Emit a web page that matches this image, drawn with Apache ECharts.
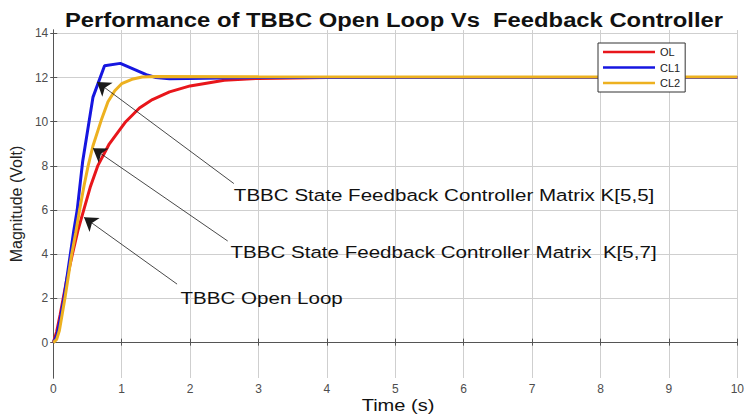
<!DOCTYPE html>
<html>
<head>
<meta charset="utf-8">
<script src="https://cdn.jsdelivr.net/npm/echarts@6/dist/echarts.min.js"></script>
<style>
  html, body { margin: 0; padding: 0; background: #fff; }
  #main { width: 747px; height: 414px; }
</style>
</head>
<body>
<div id="main"></div>
<script>
// step responses, [time (s), magnitude (V)]
var olData = [
  [0, 0], [0.05, 0.5], [0.1, 1.25], [0.145, 2], [0.2, 2.9], [0.28, 4], [0.36, 5.07],
  [0.445, 6], [0.54, 7.03], [0.65, 8], [0.82, 9], [1.06, 10], [1.26, 10.62], [1.45, 11.0],
  [1.7, 11.35], [2.0, 11.62], [2.5, 11.88], [3.0, 11.96], [4.0, 12], [10, 12]
];
var cl1Data = [
  [0, 0], [0.05, 0.3], [0.1, 1.05], [0.155, 2], [0.25, 4], [0.3, 5.07], [0.35, 6],
  [0.43, 8.2], [0.58, 11.1], [0.75, 12.53], [0.98, 12.64], [1.2, 12.35], [1.36, 12.13],
  [1.5, 12.0], [1.7, 11.94], [2.2, 11.97], [3, 12], [10, 12]
];
var cl2Data = [
  [0, 0], [0.05, 0.15], [0.09, 0.55], [0.17, 2], [0.27, 4], [0.33, 5], [0.385, 6],
  [0.45, 7.1], [0.51, 8], [0.58, 8.9], [0.7, 10.05], [0.8, 10.9], [0.9, 11.4], [1.0, 11.72],
  [1.15, 11.92], [1.3, 12.02], [1.5, 12.04], [3, 12.03], [10, 12.02]
];
var seriesNames = ['OL', 'CL1', 'CL2'];
var seriesColors = ['#e8161b', '#1616e0', '#edb120'];
var yTicks = [0, 2, 4, 6, 8, 10, 12, 14];

// arrows: tail -> tip (on the curve), text anchored at "at" (left, middle)
var notes = [
  { text: 'TBBC State Feedback Controller Matrix K[5,5]', tail: [2.64, 7.2], tip: [0.64, 11.8], at: [2.64, 6.67] },
  { text: 'TBBC State Feedback Controller Matrix  K[5,7]', tail: [2.55, 4.6], tip: [0.58, 8.8], at: [2.59, 4.1] },
  { text: 'TBBC Open Loop', tail: [1.81, 2.65], tip: [0.45, 5.67], at: [1.86, 2.0] }
];

var FONT = 'Liberation Sans, Arial, sans-serif';
var dom = document.getElementById('main');
var myChart = echarts.init(dom, null, { renderer: 'svg' });

var seriesData = [olData, cl1Data, cl2Data];
var series = seriesNames.map(function (name, i) {
  return {
    name: name,
    type: 'line',
    data: seriesData[i],
    symbol: 'none',
    lineStyle: { width: 3, color: seriesColors[i] },
    itemStyle: { color: seriesColors[i] }
  };
});
// annotation arrows hang on the first series
series[0].markLine = {
  silent: true,
  symbol: ['none', 'arrow'],
  symbolSize: 13,
  label: { show: false },
  lineStyle: { color: '#1a1a1a', width: 0.8, type: 'solid' },
  data: notes.map(function (n) {
    return [{ coord: n.tail }, { coord: n.tip }];
  })
};

var option = {
  animation: false,
  textStyle: { fontFamily: FONT },
  grid: { left: 53, right: 5, top: 30, bottom: 36 },
  legend: {
    data: seriesNames,
    orient: 'vertical',
    left: 598,
    top: 43,
    padding: [3, 5, 3, 5],
    icon: 'rect',
    itemWidth: 52,
    itemHeight: 2.5,
    itemGap: 3.5,
    backgroundColor: '#fff',
    borderColor: '#333',
    borderWidth: 1,
    borderRadius: 0,
    textStyle: { fontSize: 11, lineHeight: 12, color: '#222', fontFamily: FONT }
  },
  xAxis: [
    {
      type: 'value', min: 0, max: 10, interval: 1,
      axisLine: { show: true, lineStyle: { color: '#555', width: 1 } },
      axisTick: { show: true, inside: true, length: 4, lineStyle: { color: '#555' } },
      axisLabel: { fontSize: 12, color: '#4d4d4d', margin: 5 },
      splitLine: { show: true, lineStyle: { color: '#cfcfcf', width: 1 } }
    },
    {
      type: 'value', min: 0, max: 10, interval: 1, position: 'top',
      axisLine: { show: true, lineStyle: { color: '#555', width: 1 } },
      axisTick: { show: true, inside: true, length: 3, lineStyle: { color: '#555' } },
      axisLabel: { show: false },
      splitLine: { show: false }
    }
  ],
  yAxis: [
    {
      type: 'value', min: -1.6, max: 14.15,
      name: 'Magnitude (Volt)',
      nameLocation: 'middle',
      nameGap: 24,
      nameTextStyle: { fontSize: 16, color: '#222' },
      axisLine: { show: true, lineStyle: { color: '#555', width: 1 } },
      axisTick: { show: true, inside: true, length: 4, customValues: yTicks, lineStyle: { color: '#555' } },
      axisLabel: { fontSize: 12, color: '#4d4d4d', margin: 5, customValues: yTicks },
      splitLine: { show: true, lineStyle: { color: '#cfcfcf', width: 1 } }
    },
    {
      type: 'value', min: -1.6, max: 14.15, position: 'right',
      axisLine: { show: true, lineStyle: { color: '#555', width: 1 } },
      axisTick: { show: true, inside: true, length: 3, customValues: yTicks, lineStyle: { color: '#555' } },
      axisLabel: { show: false, customValues: yTicks },
      splitLine: { show: false }
    }
  ],
  series: series
};

myChart.setOption(option);

// texts in the reference are stretched sideways, hence scaleX
function label(text, x, y, size, weight, align, sx) {
  return {
    type: 'text', x: x, y: y, scaleX: sx, silent: true,
    style: {
      text: text, fontSize: size, fontWeight: weight, fontFamily: FONT, fill: '#111',
      textAlign: align, align: align, textVerticalAlign: 'middle', verticalAlign: 'middle'
    }
  };
}
var gfx = [
  label('Performance of TBBC Open Loop Vs  Feedback Controller', 394, 20, 20, 'bold', 'center', 1.19),
  label('Time (s)', 398, 405, 17, 'normal', 'center', 1.18)
];
notes.forEach(function (n) {
  var p = myChart.convertToPixel({ gridIndex: 0 }, n.at);
  gfx.push(label(n.text, p[0], p[1], 17, 'normal', 'left', 1.21));
});
myChart.setOption({ graphic: { elements: gfx } });

window.addEventListener('resize', myChart.resize);
</script>
</body>
</html>
